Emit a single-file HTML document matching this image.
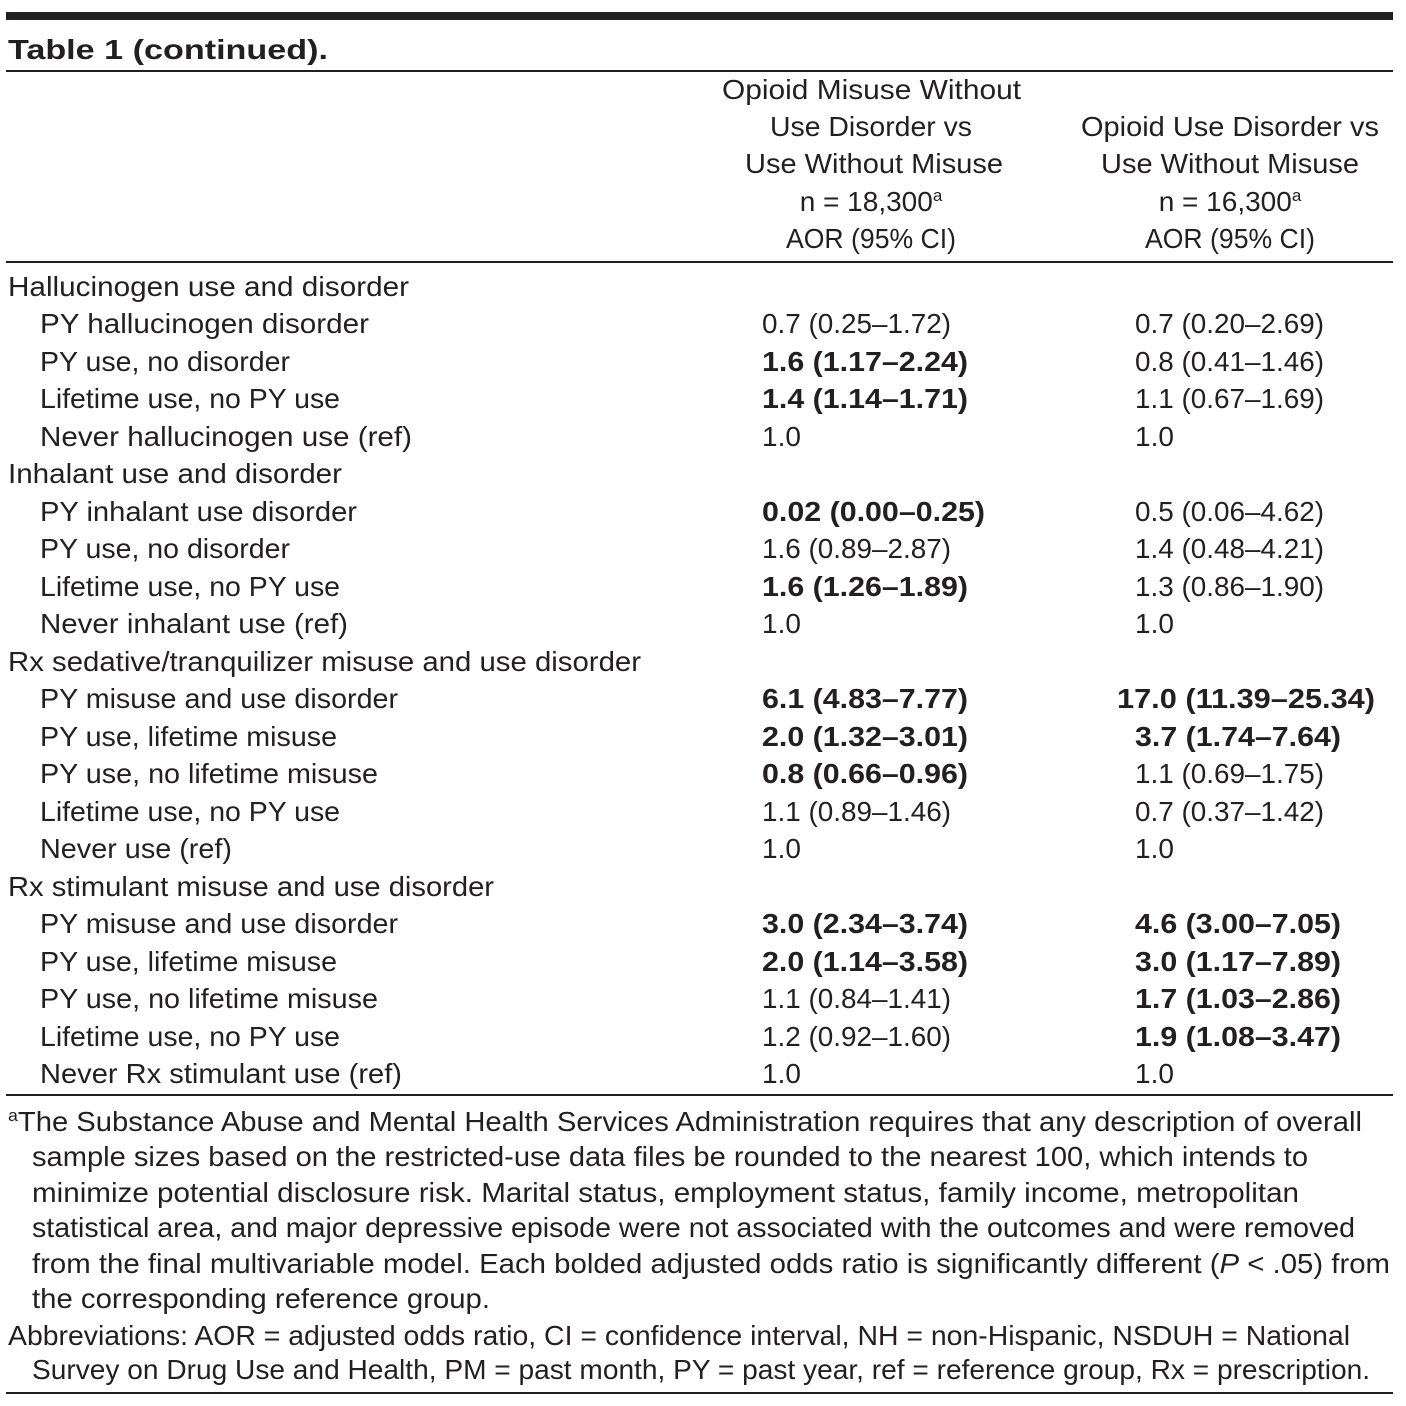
<!DOCTYPE html>
<html><head><meta charset="utf-8"><style>
html,body{margin:0;padding:0;background:#fff}
svg{display:block}
text{font-family:"Liberation Sans",sans-serif;font-size:28px;fill:#231f20}
.b{font-weight:bold}
.c{text-anchor:middle}
</style></head><body>
<svg width="1406" height="1406" viewBox="0 0 1406 1406">
<rect x="6" y="12" width="1387" height="8" fill="#231f20"/>
<text x="8" y="59" class="b" font-size="28" textLength="320" lengthAdjust="spacingAndGlyphs">Table 1 (continued).</text>
<rect x="6" y="70" width="1387" height="2" fill="#231f20"/>
<g lengthAdjust="spacingAndGlyphs">
<text x="722" y="99" textLength="299" lengthAdjust="spacingAndGlyphs">Opioid Misuse Without</text>
<text x="770" y="136" textLength="202" lengthAdjust="spacingAndGlyphs">Use Disorder vs</text>
<text x="745" y="173" textLength="258" lengthAdjust="spacingAndGlyphs">Use Without Misuse</text>
<text x="871" y="211" class="c">n = 18,300<tspan font-size="17" dy="-10">a</tspan></text>
<text x="786" y="248" textLength="170" lengthAdjust="spacingAndGlyphs">AOR (95% CI)</text>
<text x="1081" y="136" textLength="298" lengthAdjust="spacingAndGlyphs">Opioid Use Disorder vs</text>
<text x="1101" y="173" textLength="258" lengthAdjust="spacingAndGlyphs">Use Without Misuse</text>
<text x="1230" y="211" class="c">n = 16,300<tspan font-size="17" dy="-10">a</tspan></text>
<text x="1145" y="248" textLength="170" lengthAdjust="spacingAndGlyphs">AOR (95% CI)</text>
</g>
<rect x="6" y="261" width="1387" height="2" fill="#231f20"/>
<g>
<text x="8" y="296" textLength="401" lengthAdjust="spacingAndGlyphs">Hallucinogen use and disorder</text>
<text x="40" y="333" textLength="329" lengthAdjust="spacingAndGlyphs">PY hallucinogen disorder</text><text x="762" y="333" textLength="189" lengthAdjust="spacingAndGlyphs">0.7 (0.25–1.72)</text><text x="1135" y="333" textLength="189" lengthAdjust="spacingAndGlyphs">0.7 (0.20–2.69)</text>
<text x="40" y="371" textLength="250" lengthAdjust="spacingAndGlyphs">PY use, no disorder</text><text x="762" y="371" class="b" textLength="206" lengthAdjust="spacingAndGlyphs">1.6 (1.17–2.24)</text><text x="1135" y="371" textLength="189" lengthAdjust="spacingAndGlyphs">0.8 (0.41–1.46)</text>
<text x="40" y="408" textLength="300" lengthAdjust="spacingAndGlyphs">Lifetime use, no PY use</text><text x="762" y="408" class="b" textLength="206" lengthAdjust="spacingAndGlyphs">1.4 (1.14–1.71)</text><text x="1135" y="408" textLength="189" lengthAdjust="spacingAndGlyphs">1.1 (0.67–1.69)</text>
<text x="40" y="446" textLength="372" lengthAdjust="spacingAndGlyphs">Never hallucinogen use (ref)</text><text x="762" y="446">1.0</text><text x="1135" y="446">1.0</text>
<text x="8" y="483" textLength="334" lengthAdjust="spacingAndGlyphs">Inhalant use and disorder</text>
<text x="40" y="521" textLength="317" lengthAdjust="spacingAndGlyphs">PY inhalant use disorder</text><text x="762" y="521" class="b" textLength="223" lengthAdjust="spacingAndGlyphs">0.02 (0.00–0.25)</text><text x="1135" y="521" textLength="189" lengthAdjust="spacingAndGlyphs">0.5 (0.06–4.62)</text>
<text x="40" y="558" textLength="250" lengthAdjust="spacingAndGlyphs">PY use, no disorder</text><text x="762" y="558" textLength="189" lengthAdjust="spacingAndGlyphs">1.6 (0.89–2.87)</text><text x="1135" y="558" textLength="189" lengthAdjust="spacingAndGlyphs">1.4 (0.48–4.21)</text>
<text x="40" y="596" textLength="300" lengthAdjust="spacingAndGlyphs">Lifetime use, no PY use</text><text x="762" y="596" class="b" textLength="206" lengthAdjust="spacingAndGlyphs">1.6 (1.26–1.89)</text><text x="1135" y="596" textLength="189" lengthAdjust="spacingAndGlyphs">1.3 (0.86–1.90)</text>
<text x="40" y="633" textLength="308" lengthAdjust="spacingAndGlyphs">Never inhalant use (ref)</text><text x="762" y="633">1.0</text><text x="1135" y="633">1.0</text>
<text x="8" y="671" textLength="633" lengthAdjust="spacingAndGlyphs">Rx sedative/tranquilizer misuse and use disorder</text>
<text x="40" y="708" textLength="358" lengthAdjust="spacingAndGlyphs">PY misuse and use disorder</text><text x="762" y="708" class="b" textLength="206" lengthAdjust="spacingAndGlyphs">6.1 (4.83–7.77)</text><text x="1117" y="708" class="b" textLength="258" lengthAdjust="spacingAndGlyphs">17.0 (11.39–25.34)</text>
<text x="40" y="746" textLength="297" lengthAdjust="spacingAndGlyphs">PY use, lifetime misuse</text><text x="762" y="746" class="b" textLength="206" lengthAdjust="spacingAndGlyphs">2.0 (1.32–3.01)</text><text x="1135" y="746" class="b" textLength="206" lengthAdjust="spacingAndGlyphs">3.7 (1.74–7.64)</text>
<text x="40" y="783" textLength="338" lengthAdjust="spacingAndGlyphs">PY use, no lifetime misuse</text><text x="762" y="783" class="b" textLength="206" lengthAdjust="spacingAndGlyphs">0.8 (0.66–0.96)</text><text x="1135" y="783" textLength="189" lengthAdjust="spacingAndGlyphs">1.1 (0.69–1.75)</text>
<text x="40" y="821" textLength="300" lengthAdjust="spacingAndGlyphs">Lifetime use, no PY use</text><text x="762" y="821" textLength="189" lengthAdjust="spacingAndGlyphs">1.1 (0.89–1.46)</text><text x="1135" y="821" textLength="189" lengthAdjust="spacingAndGlyphs">0.7 (0.37–1.42)</text>
<text x="40" y="858" textLength="192" lengthAdjust="spacingAndGlyphs">Never use (ref)</text><text x="762" y="858">1.0</text><text x="1135" y="858">1.0</text>
<text x="8" y="896" textLength="486" lengthAdjust="spacingAndGlyphs">Rx stimulant misuse and use disorder</text>
<text x="40" y="933" textLength="358" lengthAdjust="spacingAndGlyphs">PY misuse and use disorder</text><text x="762" y="933" class="b" textLength="206" lengthAdjust="spacingAndGlyphs">3.0 (2.34–3.74)</text><text x="1135" y="933" class="b" textLength="206" lengthAdjust="spacingAndGlyphs">4.6 (3.00–7.05)</text>
<text x="40" y="971" textLength="297" lengthAdjust="spacingAndGlyphs">PY use, lifetime misuse</text><text x="762" y="971" class="b" textLength="206" lengthAdjust="spacingAndGlyphs">2.0 (1.14–3.58)</text><text x="1135" y="971" class="b" textLength="206" lengthAdjust="spacingAndGlyphs">3.0 (1.17–7.89)</text>
<text x="40" y="1008" textLength="338" lengthAdjust="spacingAndGlyphs">PY use, no lifetime misuse</text><text x="762" y="1008" textLength="189" lengthAdjust="spacingAndGlyphs">1.1 (0.84–1.41)</text><text x="1135" y="1008" class="b" textLength="206" lengthAdjust="spacingAndGlyphs">1.7 (1.03–2.86)</text>
<text x="40" y="1046" textLength="300" lengthAdjust="spacingAndGlyphs">Lifetime use, no PY use</text><text x="762" y="1046" textLength="189" lengthAdjust="spacingAndGlyphs">1.2 (0.92–1.60)</text><text x="1135" y="1046" class="b" textLength="206" lengthAdjust="spacingAndGlyphs">1.9 (1.08–3.47)</text>
<text x="40" y="1083" textLength="362" lengthAdjust="spacingAndGlyphs">Never Rx stimulant use (ref)</text><text x="762" y="1083">1.0</text><text x="1135" y="1083">1.0</text>
</g>
<rect x="6" y="1094" width="1387" height="2" fill="#231f20"/>
<g>
<text x="8" y="1131" textLength="1354" lengthAdjust="spacingAndGlyphs"><tspan font-size="17" dy="-10">a</tspan><tspan dy="10">The Substance Abuse and Mental Health Services Administration requires that any description of overall</tspan></text>
<text x="32" y="1166" textLength="1276" lengthAdjust="spacingAndGlyphs">sample sizes based on the restricted-use data files be rounded to the nearest 100, which intends to</text>
<text x="32" y="1202" textLength="1267" lengthAdjust="spacingAndGlyphs">minimize potential disclosure risk. Marital status, employment status, family income, metropolitan</text>
<text x="32" y="1237" textLength="1323" lengthAdjust="spacingAndGlyphs">statistical area, and major depressive episode were not associated with the outcomes and were removed</text>
<text x="32" y="1273" textLength="1358" lengthAdjust="spacingAndGlyphs">from the final multivariable model. Each bolded adjusted odds ratio is significantly different (<tspan font-style="italic">P</tspan> &lt; .05) from</text>
<text x="32" y="1308" textLength="458" lengthAdjust="spacingAndGlyphs">the corresponding reference group.</text>
<text x="8" y="1345" textLength="1342" lengthAdjust="spacingAndGlyphs">Abbreviations: AOR = adjusted odds ratio, CI = confidence interval, NH = non-Hispanic, NSDUH = National</text>
<text x="32" y="1379" textLength="1338" lengthAdjust="spacingAndGlyphs">Survey on Drug Use and Health, PM = past month, PY = past year, ref = reference group, Rx = prescription.</text>
</g>
<rect x="6" y="1392" width="1387" height="2" fill="#231f20"/>
</svg>
</body></html>
